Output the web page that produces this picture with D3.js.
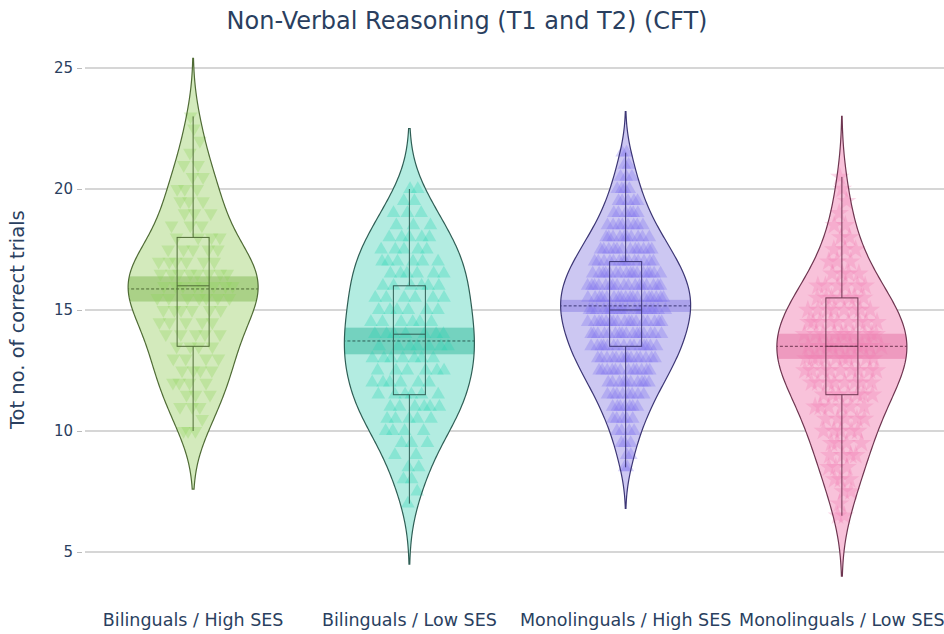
<!DOCTYPE html>
<html>
<head>
<meta charset="utf-8">
<script src="https://cdn.jsdelivr.net/npm/d3@7"></script>
<style>
  body { margin: 0; background: #fff; }
  text { font-family: "DejaVu Sans", Verdana, sans-serif; fill: #2a3f5f; }
</style>
</head>
<body>
<div id="chart"></div>
<script>
// categories along the x axis
var categories = ["Bilinguals / High SES", "Bilinguals / Low SES", "Monolinguals / High SES", "Monolinguals / Low SES"];

// scores (half-point steps) and how many children got each score
var bhScores = [10, 10.5, 11, 11.5, 12, 12.5, 13, 13.5, 14, 14.5, 15, 15.5, 16, 16.5, 17, 17.5, 18, 18.5, 19, 19.5, 20, 20.5, 21, 21.5, 22, 22.5, 23];
var bhCounts = [3, 1, 3, 3, 4, 4, 4, 4, 5, 5, 6, 7, 8, 8, 6, 5, 4, 3, 3, 3, 3, 2, 2, 1, 1, 1, 1];

var blScores = [7, 7.5, 8, 8.5, 9, 9.5, 10, 10.5, 11, 11.5, 12, 12.5, 13, 13.5, 14, 14.5, 15, 15.5, 16, 16.5, 17, 17.5, 18, 18.5, 19, 19.5, 20];
var blCounts = [1, 1, 2, 2, 2, 3, 4, 5, 6, 6, 6, 6, 7, 7, 7, 6, 6, 6, 6, 6, 6, 5, 5, 3, 3, 2, 2];

var mhScores = [8.5, 9, 9.5, 10, 10.5, 11, 11.5, 12, 12.5, 13, 13.5, 14, 14.5, 15, 15.5, 16, 16.5, 17, 17.5, 18, 18.5, 19, 19.5, 20, 20.5, 21, 21.5];
var mhCounts = [2, 2, 3, 4, 5, 7, 8, 10, 12, 14, 15, 16, 17, 18, 18, 17, 16, 14, 12, 10, 8, 6, 5, 4, 3, 2, 2];

var mlScores = [6.5, 7, 7.5, 8, 8.5, 9, 9.5, 10, 10.5, 11, 11.5, 12, 12.5, 13, 13.5, 14, 14.5, 15, 15.5, 16, 16.5, 17, 17.5, 18, 18.5, 19, 19.5, 20, 20.5];
var mlCounts = [2, 1, 2, 3, 3, 4, 4, 5, 5, 6, 7, 8, 9, 10, 10, 10, 9, 8, 7, 6, 4, 3, 3, 2, 2, 1, 1, 1, 1];

// box / mean summaries
var q1s = [13.5, 11.5, 13.5, 11.5];
var medians = [16, 14, 15, 13.5];
var q3s = [18, 16, 17, 15.5];
var means = [15.87, 13.72, 15.17, 13.5];
var meanBandHalf = [0.52, 0.55, 0.25, 0.52];
var bandwidths = [1.2, 1.25, 0.85, 1.25];

var yTicks = [5, 10, 15, 20, 25];

var fills = ["#d3eabc", "#b3ece1", "#ccc7f2", "#f8c2da"];
var lines = ["#4f6b35", "#2f5e55", "#3c3675", "#6e3550"];
var bands = ["rgba(120,180,70,0.45)", "rgba(40,180,150,0.45)", "rgba(110,95,220,0.35)", "rgba(220,80,140,0.35)"];
var pointCols = ["#8ed45a", "#25d5b3", "#7a6cf0", "#f27db3"];
var symbols = ["triangle-down", "triangle", "triangle", "star"];

var groups = [
  {scores: bhScores, counts: bhCounts},
  {scores: blScores, counts: blCounts},
  {scores: mhScores, counts: mhCounts},
  {scores: mlScores, counts: mlCounts}
];

var W = 944, H = 634;
var margin = {left: 85, right: -6, top: 0, bottom: 0};

var svg = d3.select("#chart").append("svg")
  .attr("width", W)
  .attr("height", H);

var x = d3.scaleBand()
  .domain(categories)
  .range([margin.left, W - margin.right]);

var y = d3.scaleLinear()
  .domain([5, 25])
  .range([552, 68]);

var maxHalf = 65;

// grid
svg.append("g").selectAll("line")
  .data(yTicks).enter().append("line")
  .attr("x1", margin.left).attr("x2", W)
  .attr("y1", function(d) { return y(d); })
  .attr("y2", function(d) { return y(d); })
  .attr("stroke", "#c9c9c9")
  .attr("stroke-width", 1.4);

var yAxis = d3.axisLeft(y).tickValues(yTicks).tickSize(5).tickPadding(4);
var ya = svg.append("g")
  .attr("transform", "translate(" + (margin.left - 3) + ",0)")
  .call(yAxis);
ya.select(".domain").remove();
ya.selectAll(".tick line").attr("stroke", "#bbb");
ya.selectAll(".tick text").style("font-size", "15px").attr("fill", "#2a3f5f")
  .style("font-family", "'DejaVu Sans', sans-serif");

svg.append("text")
  .attr("transform", "translate(24," + y(14.6) + ") rotate(-90)")
  .attr("text-anchor", "middle")
  .style("font-size", "19.5px")
  .text("Tot no. of correct trials");

svg.append("text")
  .attr("x", 467).attr("y", 29)
  .attr("text-anchor", "middle")
  .style("font-size", "24px")
  .text("Non-Verbal Reasoning (T1 and T2) (CFT)");

// x labels
svg.append("g").selectAll("text")
  .data(categories).enter().append("text")
  .attr("x", function(d) { return x(d) + x.bandwidth() / 2; })
  .attr("y", 626)
  .attr("text-anchor", "middle")
  .style("font-size", "17.5px")
  .text(function(d) { return d; });

function kde(g, bw) {
  return function(v) {
    var s = 0;
    for (var i = 0; i < g.scores.length; i++) {
      var z = (v - g.scores[i]) / bw;
      s += g.counts[i] * Math.exp(-0.5 * z * z);
    }
    return s;
  };
}

groups.forEach(function(g, gi) {
  var cx = x(categories[gi]) + x.bandwidth() / 2;
  var bw = bandwidths[gi];
  var dens = kde(g, bw);
  var lo = d3.min(g.scores) - 2 * bw, hi = d3.max(g.scores) + 2 * bw;
  var grid = d3.range(0, 201).map(function(i) { return lo + (hi - lo) * i / 200; });
  var dmax = d3.max(grid, dens);
  var half = function(v) { return maxHalf * dens(v) / dmax; };

  var area = d3.area()
    .x0(function(v) { return cx - half(v); })
    .x1(function(v) { return cx + half(v); })
    .y(function(v) { return y(v); });

  var gg = svg.append("g");

  svg.append("clipPath").attr("id", "vclip" + gi)
    .append("path").attr("d", area(grid));

  gg.append("path")
    .attr("d", area(grid))
    .attr("fill", fills[gi]);

  // mean band
  gg.append("rect")
    .attr("clip-path", "url(#vclip" + gi + ")")
    .attr("x", cx - maxHalf - 2)
    .attr("width", 2 * maxHalf + 4)
    .attr("y", y(means[gi] + meanBandHalf[gi]))
    .attr("height", y(means[gi] - meanBandHalf[gi]) - y(means[gi] + meanBandHalf[gi]))
    .attr("fill", bands[gi]);

  // points
  var pts = [];
  var idx = 0;
  g.scores.forEach(function(v, i) {
    for (var k = 0; k < g.counts[i]; k++) {
      var u = ((idx * 0.6180339887 + gi * 0.37) % 1) * 2 - 1;
      pts.push({v: v, dx: u * 0.62 * half(v)});
      idx++;
    }
  });
  var sym = symbols[gi] === "star" ? d3.symbolStar : d3.symbolTriangle;
  var size = symbols[gi] === "star" ? 120 : 80;
  gg.append("g").selectAll("path")
    .data(pts).enter().append("path")
    .attr("d", d3.symbol().type(sym).size(size))
    .attr("transform", function(d) {
      return "translate(" + (cx + d.dx) + "," + y(d.v) + ")" + (symbols[gi] === "triangle-down" ? " rotate(180)" : "");
    })
    .attr("fill", pointCols[gi])
    .attr("fill-opacity", 0.3);

  // box + whiskers
  var bwid = 16;
  gg.append("line")
    .attr("x1", cx).attr("x2", cx)
    .attr("y1", y(d3.max(g.scores))).attr("y2", y(q3s[gi]))
    .attr("stroke", lines[gi]).attr("stroke-width", 1);
  gg.append("line")
    .attr("x1", cx).attr("x2", cx)
    .attr("y1", y(q1s[gi])).attr("y2", y(d3.min(g.scores)))
    .attr("stroke", lines[gi]).attr("stroke-width", 1);
  gg.append("rect")
    .attr("x", cx - bwid).attr("width", 2 * bwid)
    .attr("y", y(q3s[gi])).attr("height", y(q1s[gi]) - y(q3s[gi]))
    .attr("fill", "none")
    .attr("stroke", lines[gi]).attr("stroke-width", 1);
  gg.append("line")
    .attr("x1", cx - bwid).attr("x2", cx + bwid)
    .attr("y1", y(medians[gi])).attr("y2", y(medians[gi]))
    .attr("stroke", lines[gi]).attr("stroke-width", 1);

  // mean dashed line across violin
  gg.append("line")
    .attr("clip-path", "url(#vclip" + gi + ")")
    .attr("x1", cx - maxHalf - 2).attr("x2", cx + maxHalf + 2)
    .attr("y1", y(means[gi])).attr("y2", y(means[gi]))
    .attr("stroke", lines[gi]).attr("stroke-width", 1)
    .attr("stroke-dasharray", "3,2");

  gg.append("path")
    .attr("d", area(grid))
    .attr("fill", "none")
    .attr("stroke", lines[gi])
    .attr("stroke-width", 1.2);
});
</script>
</body>
</html>
